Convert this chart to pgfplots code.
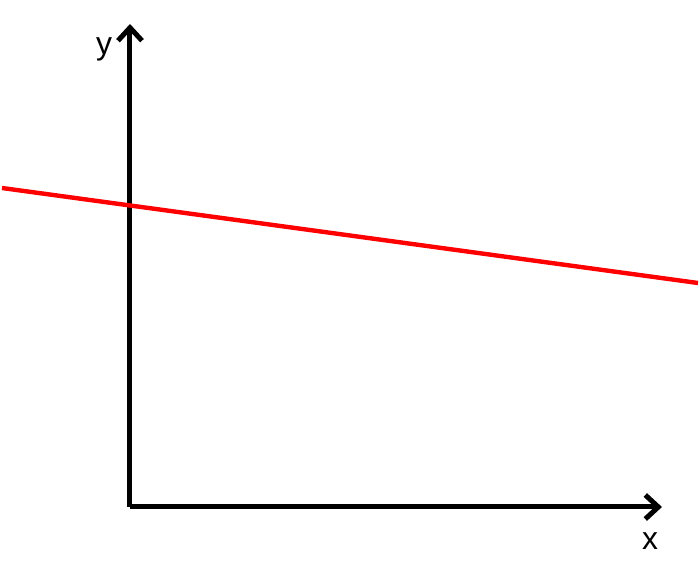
\documentclass[border=0pt]{standalone}
\usepackage{pgfplots}
\pgfplotsset{compat=1.18}
\usepackage{fontspec}
\setmainfont{Liberation Sans}
\usetikzlibrary{arrows.meta}
\begin{document}
\begin{tikzpicture}
\begin{axis}[scale only axis, width=350bp, height=284bp,
  xmin=0, xmax=700, ymin=0, ymax=568, hide axis, clip=false]
% axes
\addplot[black, line width=2.5bp, -{Straight Barb[length=6.5bp,width=12bp,line width=2.5bp]}] coordinates {(130,61)(130,544)};
\addplot[black, line width=2.5bp, -{Straight Barb[length=6.5bp,width=12bp,line width=2.5bp]}] coordinates {(130,61)(662,61)};
% red line
\addplot[red, line width=2.2bp] coordinates {(2,380)(698,285)};
\node[font=\fontsize{16}{19}\selectfont] at (axis cs:104,519) {y};
\node[font=\fontsize{16}{19}\selectfont] at (axis cs:650,27) {x};
\end{axis}
\pgfresetboundingbox
\path (0,0) rectangle (350bp,284bp);
\end{tikzpicture}
\end{document}
